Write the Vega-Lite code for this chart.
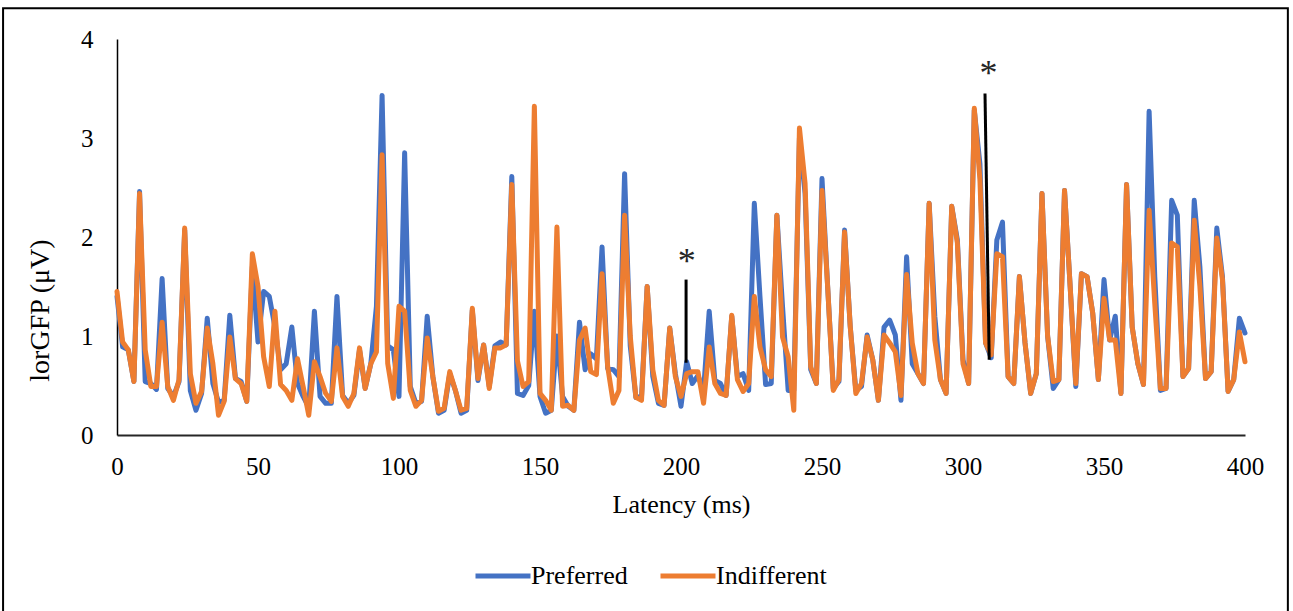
{
  "$schema": "https://vega.github.io/schema/vega-lite/v6.json",
  "width": 1128,
  "height": 396,
  "autosize": {"type": "none"},
  "padding": {"left": 117, "top": 39, "right": 48, "bottom": 176},
  "background": "white",
  "config": {
    "view": {"stroke": null},
    "font": "Liberation Serif"
  },
  "datasets": {
    "gfp": [
      {"ms":0,"Preferred":1.40,"Indifferent":1.45},
      {"ms":2,"Preferred":0.89,"Indifferent":0.94},
      {"ms":4,"Preferred":0.86,"Indifferent":0.86},
      {"ms":6,"Preferred":0.54,"Indifferent":0.54},
      {"ms":8,"Preferred":2.46,"Indifferent":2.44},
      {"ms":10,"Preferred":0.54,"Indifferent":0.86},
      {"ms":12,"Preferred":0.52,"Indifferent":0.49},
      {"ms":14,"Preferred":0.46,"Indifferent":0.49},
      {"ms":16,"Preferred":1.58,"Indifferent":1.14},
      {"ms":18,"Preferred":0.47,"Indifferent":0.49},
      {"ms":20,"Preferred":0.39,"Indifferent":0.35},
      {"ms":22,"Preferred":0.54,"Indifferent":0.56},
      {"ms":24,"Preferred":2.07,"Indifferent":2.09},
      {"ms":26,"Preferred":0.45,"Indifferent":0.62},
      {"ms":28,"Preferred":0.25,"Indifferent":0.32},
      {"ms":30,"Preferred":0.42,"Indifferent":0.44},
      {"ms":32,"Preferred":1.18,"Indifferent":1.08},
      {"ms":34,"Preferred":0.52,"Indifferent":0.72},
      {"ms":36,"Preferred":0.33,"Indifferent":0.20},
      {"ms":38,"Preferred":0.35,"Indifferent":0.34},
      {"ms":40,"Preferred":1.21,"Indifferent":0.99},
      {"ms":42,"Preferred":0.57,"Indifferent":0.57},
      {"ms":44,"Preferred":0.54,"Indifferent":0.52},
      {"ms":46,"Preferred":0.34,"Indifferent":0.34},
      {"ms":48,"Preferred":1.70,"Indifferent":1.83},
      {"ms":50,"Preferred":0.94,"Indifferent":1.50},
      {"ms":52,"Preferred":1.45,"Indifferent":0.79},
      {"ms":54,"Preferred":1.40,"Indifferent":0.49},
      {"ms":56,"Preferred":1.09,"Indifferent":1.25},
      {"ms":58,"Preferred":0.66,"Indifferent":0.51},
      {"ms":60,"Preferred":0.72,"Indifferent":0.45},
      {"ms":62,"Preferred":1.09,"Indifferent":0.35},
      {"ms":64,"Preferred":0.52,"Indifferent":0.77},
      {"ms":66,"Preferred":0.39,"Indifferent":0.49},
      {"ms":68,"Preferred":0.28,"Indifferent":0.20},
      {"ms":70,"Preferred":1.25,"Indifferent":0.74},
      {"ms":72,"Preferred":0.39,"Indifferent":0.59},
      {"ms":74,"Preferred":0.32,"Indifferent":0.42},
      {"ms":76,"Preferred":0.32,"Indifferent":0.34},
      {"ms":78,"Preferred":1.40,"Indifferent":0.88},
      {"ms":80,"Preferred":0.40,"Indifferent":0.39},
      {"ms":82,"Preferred":0.32,"Indifferent":0.29},
      {"ms":84,"Preferred":0.40,"Indifferent":0.42},
      {"ms":86,"Preferred":0.86,"Indifferent":0.88},
      {"ms":88,"Preferred":0.47,"Indifferent":0.47},
      {"ms":90,"Preferred":0.72,"Indifferent":0.72},
      {"ms":92,"Preferred":1.30,"Indifferent":0.84},
      {"ms":94,"Preferred":3.43,"Indifferent":2.83},
      {"ms":96,"Preferred":0.90,"Indifferent":0.72},
      {"ms":98,"Preferred":0.86,"Indifferent":0.37},
      {"ms":100,"Preferred":0.39,"Indifferent":1.30},
      {"ms":102,"Preferred":2.85,"Indifferent":1.25},
      {"ms":104,"Preferred":0.49,"Indifferent":0.45},
      {"ms":106,"Preferred":0.32,"Indifferent":0.29},
      {"ms":108,"Preferred":0.34,"Indifferent":0.35},
      {"ms":110,"Preferred":1.20,"Indifferent":0.98},
      {"ms":112,"Preferred":0.59,"Indifferent":0.59},
      {"ms":114,"Preferred":0.22,"Indifferent":0.24},
      {"ms":116,"Preferred":0.25,"Indifferent":0.27},
      {"ms":118,"Preferred":0.62,"Indifferent":0.64},
      {"ms":120,"Preferred":0.45,"Indifferent":0.45},
      {"ms":122,"Preferred":0.22,"Indifferent":0.25},
      {"ms":124,"Preferred":0.25,"Indifferent":0.27},
      {"ms":126,"Preferred":1.26,"Indifferent":1.28},
      {"ms":128,"Preferred":0.55,"Indifferent":0.57},
      {"ms":130,"Preferred":0.91,"Indifferent":0.91},
      {"ms":132,"Preferred":0.49,"Indifferent":0.47},
      {"ms":134,"Preferred":0.90,"Indifferent":0.88},
      {"ms":136,"Preferred":0.94,"Indifferent":0.88},
      {"ms":138,"Preferred":0.91,"Indifferent":0.91},
      {"ms":140,"Preferred":2.61,"Indifferent":2.53},
      {"ms":142,"Preferred":0.42,"Indifferent":0.75},
      {"ms":144,"Preferred":0.40,"Indifferent":0.49},
      {"ms":146,"Preferred":0.50,"Indifferent":0.54},
      {"ms":148,"Preferred":1.25,"Indifferent":3.32},
      {"ms":150,"Preferred":0.39,"Indifferent":0.42},
      {"ms":152,"Preferred":0.22,"Indifferent":0.35},
      {"ms":154,"Preferred":0.25,"Indifferent":0.25},
      {"ms":156,"Preferred":1.00,"Indifferent":2.10},
      {"ms":158,"Preferred":0.39,"Indifferent":0.29},
      {"ms":160,"Preferred":0.29,"Indifferent":0.30},
      {"ms":162,"Preferred":0.25,"Indifferent":0.25},
      {"ms":164,"Preferred":1.14,"Indifferent":0.96},
      {"ms":166,"Preferred":0.66,"Indifferent":1.08},
      {"ms":168,"Preferred":0.82,"Indifferent":0.64},
      {"ms":170,"Preferred":0.77,"Indifferent":0.61},
      {"ms":172,"Preferred":1.90,"Indifferent":1.63},
      {"ms":174,"Preferred":0.67,"Indifferent":0.69},
      {"ms":176,"Preferred":0.66,"Indifferent":0.32},
      {"ms":178,"Preferred":0.59,"Indifferent":0.45},
      {"ms":180,"Preferred":2.64,"Indifferent":2.22},
      {"ms":182,"Preferred":0.90,"Indifferent":1.00},
      {"ms":184,"Preferred":0.38,"Indifferent":0.38},
      {"ms":186,"Preferred":0.39,"Indifferent":0.35},
      {"ms":188,"Preferred":1.50,"Indifferent":1.50},
      {"ms":190,"Preferred":0.59,"Indifferent":0.66},
      {"ms":192,"Preferred":0.32,"Indifferent":0.35},
      {"ms":194,"Preferred":0.30,"Indifferent":0.30},
      {"ms":196,"Preferred":1.08,"Indifferent":1.08},
      {"ms":198,"Preferred":0.62,"Indifferent":0.59},
      {"ms":200,"Preferred":0.29,"Indifferent":0.39},
      {"ms":202,"Preferred":0.74,"Indifferent":0.62},
      {"ms":204,"Preferred":0.52,"Indifferent":0.64},
      {"ms":206,"Preferred":0.60,"Indifferent":0.64},
      {"ms":208,"Preferred":0.45,"Indifferent":0.32},
      {"ms":210,"Preferred":1.25,"Indifferent":0.89},
      {"ms":212,"Preferred":0.55,"Indifferent":0.52},
      {"ms":214,"Preferred":0.52,"Indifferent":0.42},
      {"ms":216,"Preferred":0.40,"Indifferent":0.40},
      {"ms":218,"Preferred":1.20,"Indifferent":1.21},
      {"ms":220,"Preferred":0.59,"Indifferent":0.56},
      {"ms":222,"Preferred":0.62,"Indifferent":0.44},
      {"ms":224,"Preferred":0.45,"Indifferent":0.52},
      {"ms":226,"Preferred":2.34,"Indifferent":1.40},
      {"ms":228,"Preferred":1.40,"Indifferent":0.89},
      {"ms":230,"Preferred":0.51,"Indifferent":0.66},
      {"ms":232,"Preferred":0.52,"Indifferent":0.59},
      {"ms":234,"Preferred":2.22,"Indifferent":2.22},
      {"ms":236,"Preferred":1.30,"Indifferent":0.99},
      {"ms":238,"Preferred":0.45,"Indifferent":0.79},
      {"ms":240,"Preferred":0.45,"Indifferent":0.25},
      {"ms":242,"Preferred":3.00,"Indifferent":3.10},
      {"ms":244,"Preferred":2.44,"Indifferent":2.54},
      {"ms":246,"Preferred":0.66,"Indifferent":0.69},
      {"ms":248,"Preferred":0.52,"Indifferent":0.52},
      {"ms":250,"Preferred":2.59,"Indifferent":2.47},
      {"ms":252,"Preferred":1.50,"Indifferent":1.50},
      {"ms":254,"Preferred":0.47,"Indifferent":0.45},
      {"ms":256,"Preferred":0.54,"Indifferent":0.56},
      {"ms":258,"Preferred":2.07,"Indifferent":2.05},
      {"ms":260,"Preferred":1.10,"Indifferent":1.10},
      {"ms":262,"Preferred":0.45,"Indifferent":0.42},
      {"ms":264,"Preferred":0.49,"Indifferent":0.52},
      {"ms":266,"Preferred":1.01,"Indifferent":0.99},
      {"ms":268,"Preferred":0.76,"Indifferent":0.76},
      {"ms":270,"Preferred":0.35,"Indifferent":0.35},
      {"ms":272,"Preferred":1.09,"Indifferent":1.01},
      {"ms":274,"Preferred":1.16,"Indifferent":0.93},
      {"ms":276,"Preferred":1.01,"Indifferent":0.84},
      {"ms":278,"Preferred":0.35,"Indifferent":0.40},
      {"ms":280,"Preferred":1.80,"Indifferent":1.62},
      {"ms":282,"Preferred":0.72,"Indifferent":0.93},
      {"ms":284,"Preferred":0.62,"Indifferent":0.62},
      {"ms":286,"Preferred":0.52,"Indifferent":0.52},
      {"ms":288,"Preferred":2.34,"Indifferent":2.34},
      {"ms":290,"Preferred":1.20,"Indifferent":0.96},
      {"ms":292,"Preferred":0.56,"Indifferent":0.56},
      {"ms":294,"Preferred":0.42,"Indifferent":0.42},
      {"ms":296,"Preferred":2.31,"Indifferent":2.31},
      {"ms":298,"Preferred":1.97,"Indifferent":1.94},
      {"ms":300,"Preferred":0.76,"Indifferent":0.72},
      {"ms":302,"Preferred":0.52,"Indifferent":0.52},
      {"ms":304,"Preferred":3.28,"Indifferent":3.30},
      {"ms":306,"Preferred":2.74,"Indifferent":2.58},
      {"ms":308,"Preferred":0.93,"Indifferent":0.93},
      {"ms":310,"Preferred":0.78,"Indifferent":0.81},
      {"ms":312,"Preferred":1.97,"Indifferent":1.83},
      {"ms":314,"Preferred":2.15,"Indifferent":1.80},
      {"ms":316,"Preferred":0.59,"Indifferent":0.59},
      {"ms":318,"Preferred":0.52,"Indifferent":0.52},
      {"ms":320,"Preferred":1.60,"Indifferent":1.60},
      {"ms":322,"Preferred":0.93,"Indifferent":0.93},
      {"ms":324,"Preferred":0.42,"Indifferent":0.42},
      {"ms":326,"Preferred":0.62,"Indifferent":0.62},
      {"ms":328,"Preferred":2.44,"Indifferent":2.44},
      {"ms":330,"Preferred":1.00,"Indifferent":1.00},
      {"ms":332,"Preferred":0.47,"Indifferent":0.54},
      {"ms":334,"Preferred":0.56,"Indifferent":0.56},
      {"ms":336,"Preferred":2.47,"Indifferent":2.47},
      {"ms":338,"Preferred":1.50,"Indifferent":1.50},
      {"ms":340,"Preferred":0.49,"Indifferent":0.52},
      {"ms":342,"Preferred":1.63,"Indifferent":1.63},
      {"ms":344,"Preferred":1.60,"Indifferent":1.60},
      {"ms":346,"Preferred":1.23,"Indifferent":1.23},
      {"ms":348,"Preferred":0.56,"Indifferent":0.56},
      {"ms":350,"Preferred":1.57,"Indifferent":1.38},
      {"ms":352,"Preferred":0.96,"Indifferent":0.96},
      {"ms":354,"Preferred":1.20,"Indifferent":0.96},
      {"ms":356,"Preferred":0.42,"Indifferent":0.42},
      {"ms":358,"Preferred":2.53,"Indifferent":2.53},
      {"ms":360,"Preferred":1.09,"Indifferent":1.09},
      {"ms":362,"Preferred":0.72,"Indifferent":0.72},
      {"ms":364,"Preferred":0.51,"Indifferent":0.51},
      {"ms":366,"Preferred":3.27,"Indifferent":2.27},
      {"ms":368,"Preferred":1.60,"Indifferent":1.33},
      {"ms":370,"Preferred":0.45,"Indifferent":0.47},
      {"ms":372,"Preferred":0.47,"Indifferent":0.47},
      {"ms":374,"Preferred":2.37,"Indifferent":1.94},
      {"ms":376,"Preferred":2.22,"Indifferent":1.90},
      {"ms":378,"Preferred":0.59,"Indifferent":0.59},
      {"ms":380,"Preferred":0.67,"Indifferent":0.67},
      {"ms":382,"Preferred":2.37,"Indifferent":2.17},
      {"ms":384,"Preferred":1.70,"Indifferent":1.50},
      {"ms":386,"Preferred":0.57,"Indifferent":0.57},
      {"ms":388,"Preferred":0.64,"Indifferent":0.64},
      {"ms":390,"Preferred":2.09,"Indifferent":1.99},
      {"ms":392,"Preferred":1.60,"Indifferent":1.57},
      {"ms":394,"Preferred":0.44,"Indifferent":0.44},
      {"ms":396,"Preferred":0.56,"Indifferent":0.56},
      {"ms":398,"Preferred":1.18,"Indifferent":1.04},
      {"ms":400,"Preferred":1.03,"Indifferent":0.74}
    ],
    "rules": [
      {"ms": 201.8, "ms2": 201.8, "top": 1.57, "bottom": 0.73},
      {"ms": 307.8, "ms2": 309.3, "top": 3.45, "bottom": 0.76}
    ],
    "stars": [
      {"ms": 202, "v": 1.64, "label": "*"},
      {"ms": 309, "v": 3.54, "label": "*"}
    ],
    "frame": [
      {"left": -40.4, "right": 415.2, "top": 4.31, "bottom": -1.9}
    ]
  },
  "layer": [
    {
      "data": {"name": "frame"},
      "mark": {"type": "rect", "fill": "white", "fillOpacity": 0, "stroke": "black", "strokeWidth": 2, "clip": false},
      "encoding": {
        "x": {"field": "left", "type": "quantitative"},
        "x2": {"field": "right"},
        "y": {"field": "top", "type": "quantitative"},
        "y2": {"field": "bottom"}
      }
    },
    {
      "data": {"name": "gfp"},
      "transform": [
        {"fold": ["Preferred", "Indifferent"], "as": ["series", "value"]},
        {"filter": "datum.series === 'Preferred'"}
      ],
      "mark": {"type": "line", "strokeWidth": 5, "strokeJoin": "round", "strokeCap": "round"},
      "encoding": {
        "x": {"field": "ms", "type": "quantitative"},
        "y": {"field": "value", "type": "quantitative"},
        "color": {"field": "series", "type": "nominal"}
      }
    },
    {
      "data": {"name": "gfp"},
      "transform": [
        {"fold": ["Preferred", "Indifferent"], "as": ["series", "value"]},
        {"filter": "datum.series === 'Indifferent'"}
      ],
      "mark": {"type": "line", "strokeWidth": 5, "strokeJoin": "round", "strokeCap": "round"},
      "encoding": {
        "x": {"field": "ms", "type": "quantitative"},
        "y": {"field": "value", "type": "quantitative"},
        "color": {"field": "series", "type": "nominal"}
      }
    },
    {
      "data": {"name": "rules"},
      "mark": {"type": "rule", "color": "black", "strokeWidth": 3},
      "encoding": {
        "x": {"field": "ms", "type": "quantitative"},
        "x2": {"field": "ms2"},
        "y": {"field": "top", "type": "quantitative"},
        "y2": {"field": "bottom"}
      }
    },
    {
      "data": {"name": "stars"},
      "mark": {"type": "text", "fontSize": 36, "font": "Liberation Serif", "color": "#262626", "baseline": "alphabetic", "align": "center"},
      "encoding": {
        "x": {"field": "ms", "type": "quantitative"},
        "y": {"field": "v", "type": "quantitative"},
        "text": {"field": "label"}
      }
    }
  ],
  "resolve": {"scale": {"color": "shared"}},
  "encoding": {
    "x": {
      "type": "quantitative",
      "scale": {"domain": [0, 400], "nice": false},
      "axis": {
        "title": "Latency (ms)",
        "values": [0, 50, 100, 150, 200, 250, 300, 350, 400],
        "grid": false,
        "ticks": false,
        "labelFlush": false,
        "labelOverlap": false,
        "domainColor": "#262626",
        "domainWidth": 2,
        "labelFont": "Liberation Serif",
        "labelFontSize": 25,
        "labelColor": "black",
        "labelPadding": 19,
        "titleFont": "Liberation Serif",
        "titleFontSize": 26,
        "titleFontWeight": "normal",
        "titleColor": "black",
        "titlePadding": 12
      }
    },
    "y": {
      "type": "quantitative",
      "scale": {"domain": [0, 4], "nice": false},
      "axis": {
        "title": "lorGFP (μV)",
        "values": [0, 1, 2, 3, 4],
        "grid": false,
        "ticks": false,
        "labelFlush": false,
        "domainColor": "black",
        "domainWidth": 1.5,
        "labelFont": "Liberation Serif",
        "labelFontSize": 25,
        "labelColor": "black",
        "labelPadding": 24,
        "titleFont": "Liberation Serif",
        "titleFontSize": 28,
        "titleFontWeight": "normal",
        "titleColor": "black",
        "titleX": -77,
        "titleY": 271,
        "titleAngle": -90,
        "titleAlign": "center",
        "titleBaseline": "middle"
      }
    },
    "color": {
      "type": "nominal",
      "scale": {"domain": ["Preferred", "Indifferent"], "range": ["#4472C4", "#ED7D31"]},
      "legend": {
        "title": null,
        "orient": "none",
        "direction": "horizontal",
        "legendX": 356,
        "legendY": 507,
        "symbolType": "stroke",
        "symbolSize": 3025,
        "symbolStrokeWidth": 5,
        "labelFont": "Liberation Serif",
        "labelFontSize": 26,
        "labelColor": "black",
        "labelOffset": -2,
        "columnPadding": 22
      }
    }
  }
}
